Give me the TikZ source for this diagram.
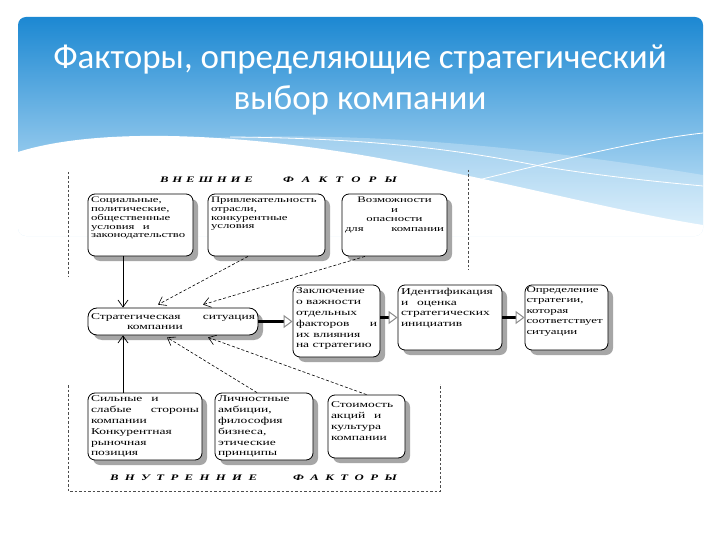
\documentclass[tikz,border=0pt]{standalone}
\usepackage{fontspec}
\setmainfont{Liberation Serif}
\newfontfamily\titlefont{Carlito}
\newfontfamily\diagfont[FakeStretch=1.5]{Liberation Serif}
\usetikzlibrary{arrows.meta,shadows}
\definecolor{hdtop}{RGB}{28,136,210}
\definecolor{hdmid}{RGB}{85,178,234}
\definecolor{hdbot}{RGB}{215,238,252}
\begin{document}
\begin{tikzpicture}[x=1pt,y=-1pt,
  box/.style={draw, line width=0.8pt, rounded corners=7pt, fill=white, inner sep=3pt,
    drop shadow={shadow xshift=5pt, shadow yshift=-5pt, fill=black!35, opacity=1},
    font=\diagfont\fontsize{9}{10.8}\selectfont},
  smallbox/.style={box, font=\diagfont\fontsize{8.5}{8.8}\selectfont},
  hdr/.style={inner sep=0pt, font=\diagfont\bfseries\itshape\fontsize{8.5}{10}\selectfont},
  frame/.style={dash pattern=on 2.5pt off 2pt, line width=0.6pt, black!70},
  solidarr/.style={line width=0.7pt, -{Straight Barb[length=7pt,width=10pt]}},
  dasharr/.style={line width=0.6pt, dash pattern=on 3pt off 2pt, -{Straight Barb[length=7pt,width=10pt]}},
  blk/.style={line width=2.4pt, -{Triangle[open, length=9pt, width=13pt, line width=1pt, color=black!45]}}
]
\useasboundingbox (0,0) rectangle (720,540);
\fill[white] (0,0) rectangle (720,540);
% header
\begin{scope}
\clip[rounded corners=8pt] (18,17) rectangle (703,236);
\shade[top color=hdtop, middle color=hdmid, bottom color=hdbot] (18,17) rectangle (703,236);
\fill[white, opacity=0.25] (150,142) .. controls (350,125) and (550,150) .. (703,175) -- (703,240) -- (150,240) -- cycle;
\fill[white] (18,152) .. controls (100,126) and (250,133) .. (400,162) .. controls (520,185) and (620,212) .. (703,225) -- (703,245) -- (18,245) -- cycle;
\draw[white, line width=0.8pt] (230,137) .. controls (380,138) and (470,152) .. (540,166) .. controls (600,176) and (660,182) .. (703,186);
\draw[white, line width=0.8pt] (470,182) .. controls (560,160) and (640,140) .. (703,133);
\end{scope}
\node[font=\titlefont\fontsize{35}{41}\selectfont, text=white, align=center] (title) at (360,80)
  {Факторы, определяющие стратегический\\выбор компании};
% frames
\draw[frame] (68,172) -- (68,277);
\draw[frame] (468,170) -- (468,270);
\draw[frame] (68,385) -- (68,491) -- (440,491) -- (440,384);
% headers
\node[hdr] (ext1) at (206.5,180) {\makebox[93pt][s]{В\hfill Н\hfill Е\hfill Ш\hfill Н\hfill И\hfill Е}};
\node[hdr] (ext2) at (340,180) {\makebox[114pt][s]{Ф\hfill А\hfill К\hfill Т\hfill О\hfill Р\hfill Ы}};
\node[hdr] (int1) at (183.5,478) {\makebox[147pt][s]{В\hfill Н\hfill У\hfill Т\hfill Р\hfill Е\hfill Н\hfill Н\hfill И\hfill Е}};
\node[hdr] (int2) at (345,478) {\makebox[104pt][s]{Ф\hfill А\hfill К\hfill Т\hfill О\hfill Р\hfill Ы}};
% top boxes
\node[smallbox] (b1) at (140.5,225) {\parbox[c][56pt][t]{99pt}{\raggedright Социальные,\\ политические,\\ общественные\\ условия\quad и\\ законодательство}};
\node[smallbox] (b2) at (266.5,225) {\parbox[c][56pt][t]{111pt}{\raggedright Привлекательность\\ отрасли,\\ конкурентные\\ условия}};
\node[smallbox, font=\diagfont\fontsize{8.5}{9.5}\selectfont] (b3) at (394.5,225) {\parbox[c][56pt][t]{99pt}{\centering Возможности\\ и\\ опасности\\ для\hfill компании}};
% middle
\node[box, rounded corners=9pt] (C) at (173,321.5) {\parbox[c][21pt][c]{164pt}{Стратегическая\hfill ситуация\\ \hspace*{36pt}компании}};
\node[box] (b4) at (336.5,321) {\parbox[c][66pt][t]{81pt}{Заключение\\ о важности\\ отдельных\\ факторов\hfill и\\ их влияния\\ на стратегию}};
\node[box] (b5) at (450,317.5) {\parbox[c][59pt][t]{98pt}{Идентификация\\ и\quad оценка\\ стратегических\\ инициатив}};
\node[box, inner sep=1.5pt, font=\diagfont\fontsize{8.6}{10.6}\selectfont] (b6) at (566.5,317.5) {\parbox[c][62pt][t]{80pt}{Определение\\ стратегии,\\ которая\\ соответствует\\ ситуации}};
% bottom
\node[box] (b7) at (145,426.5) {\parbox[c][61pt][t]{108pt}{Сильные\quad и\\ слабые\hfill стороны\\ компании\\ Конкурентная\\ рыночная\\ позиция}};
\node[box] (b8) at (264,426.5) {\parbox[c][61pt][t]{92pt}{Личностные\\ амбиции,\\ философия\\ бизнеса,\\ этические\\ принципы}};
\node[box] (b9) at (366.5,426.5) {\parbox[c][57pt][t]{71pt}{\vspace*{4pt}Стоимость\\ акций\quad и\\ культура\\ компании}};
% connectors
\draw[solidarr] ([xshift=-17.5pt]b1.south) -- ([xshift=-50pt]C.north);
\draw[solidarr] ([xshift=-22pt]b7.north) -- ([xshift=-50pt]C.south);
\draw[dasharr] ([xshift=-18.5pt]b2.south) -- ([xshift=-15pt,yshift=3pt]C.north);
\draw[dasharr] ([xshift=-29.5pt]b3.south) -- ([xshift=30pt,yshift=3pt]C.north);
\draw[dasharr] ([xshift=-7pt]b8.north) -- ([xshift=-6pt,yshift=-2pt]C.south);
\draw[dasharr] (b9.north) -- ([xshift=35pt,yshift=-2pt]C.south);
\draw[blk] (C.east) -- (C.east -| b4.west);
\draw[blk] (b5.west -| b4.east) -- (b5.west);
\draw[blk] (b5.east) -- (b6.west);
\end{tikzpicture}
\end{document}
